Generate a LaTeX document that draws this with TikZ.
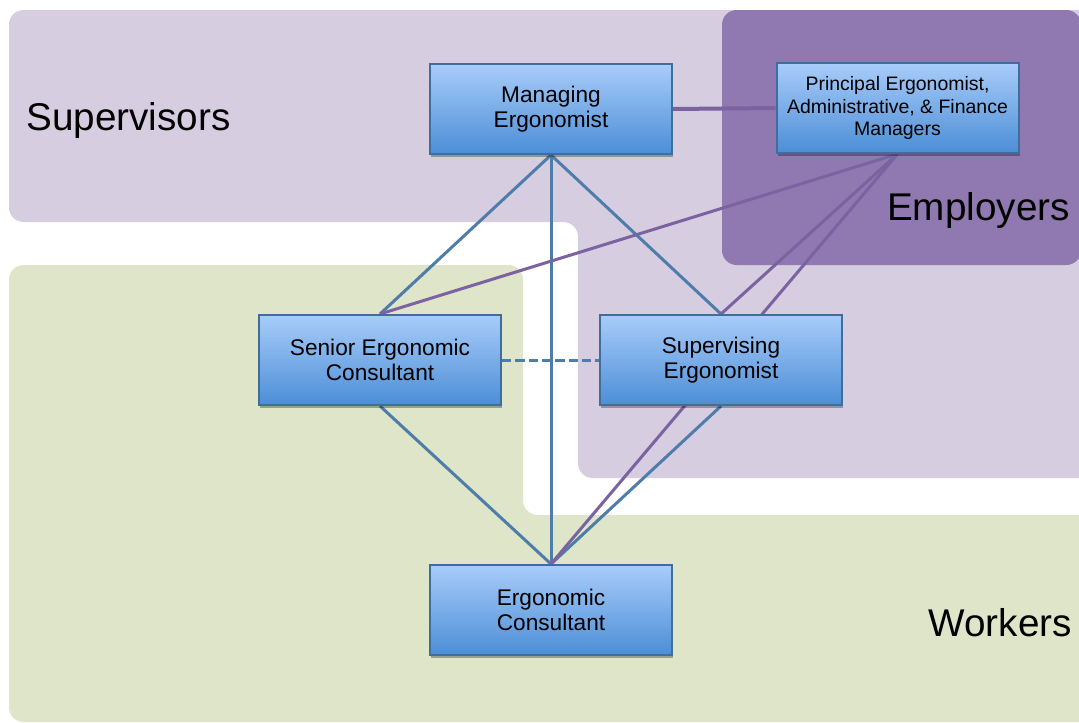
\documentclass[tikz,border=0pt]{standalone}
\usepackage{fontspec}
\setmainfont{Liberation Sans}
\usetikzlibrary{shadows}
\definecolor{suplilac}{HTML}{D7CDE1}
\definecolor{empviolet}{HTML}{9079B0}
\definecolor{wrkgreen}{HTML}{DEE5C8}
\definecolor{boxtop}{HTML}{A8CCFA}
\definecolor{boxbot}{HTML}{4C8ED6}
\definecolor{boxedge}{HTML}{3F6E9C}
\definecolor{linkblue}{HTML}{4F7DAA}
\definecolor{linkpurple}{HTML}{7B62A0}
\pgfdeclarelayer{regions}
\pgfdeclarelayer{links}
\pgfsetlayers{regions,links,main}
\begin{document}
\begin{tikzpicture}[x=0.75pt, y=-0.75pt,
        box/.style={draw=boxedge, line width=1.5pt, top color=boxtop, bottom color=boxbot,
            minimum width=181.5pt, minimum height=67.5pt, align=center, inner sep=2pt,
            font=\fontsize{17}{19}\selectfont, execute at begin node={\rule{0pt}{1em}},
            drop shadow={shadow xshift=1pt, shadow yshift=-2pt, opacity=0.3, fill=black}},
        grp/.style={inner sep=0pt, font=\fontsize{29}{34}\selectfont},
        bl/.style={draw=linkblue, line width=2.25pt},
        pl/.style={draw=linkpurple, line width=2.25pt}]
    \useasboundingbox (0,0) rectangle (1079,722);

    % groups
    \begin{pgfonlayer}{regions}
        \fill[suplilac, rounded corners=11pt] (9,10) -- (1100,10) -- (1100,478) -- (578,478)
            -- (578,222) -- (9,222) -- cycle;
        \fill[wrkgreen, rounded corners=11pt] (9,265) -- (523,265) -- (523,515) -- (1100,515)
            -- (1100,722) -- (9,722) -- cycle;
        \fill[empviolet, rounded corners=11pt] (722,10) rectangle (1081,265);
    \end{pgfonlayer}
    \node[grp, anchor=west] (supervisors) at (26,120) {Supervisors};
    \node[grp, anchor=east] (employers) at (1070,210) {Employers};
    \node[grp, anchor=east] (workers) at (1072,623) {Workers};

    % roles
    \node[box] (managing) at (551,109) {Managing\\Ergonomist};
    \node[box, font=\fontsize{14.6}{17}\selectfont] (principal) at (897.5,108)
        {Principal Ergonomist,\\Administrative, \& Finance\\Managers};
    \node[box] (senior) at (380,360) {Senior Ergonomic\\Consultant};
    \node[box] (supervising) at (721,360) {Supervising\\Ergonomist};
    \node[box] (consultant) at (551,610) {Ergonomic\\Consultant};

    % links
    \begin{pgfonlayer}{links}
        \draw[bl] (managing.south) -- (senior.north);
        \draw[bl] (managing.south) -- (supervising.north);
        \draw[bl] (senior.south) -- (consultant.north);
        \draw[bl] (supervising.south) -- (consultant.north);
        \draw[bl, dash pattern=on 7pt off 3pt] (senior.east) -- (supervising.west);
        \draw[bl] (managing.south) -- (consultant.north);
        \draw[pl, line width=3pt] (managing.east) -- (principal.west);
        \draw[pl] (principal.south) -- (senior.north);
        \draw[pl] (principal.south) -- (supervising.north);
        \draw[pl] (principal.south) -- (consultant.north);
    \end{pgfonlayer}
\end{tikzpicture}
\end{document}
